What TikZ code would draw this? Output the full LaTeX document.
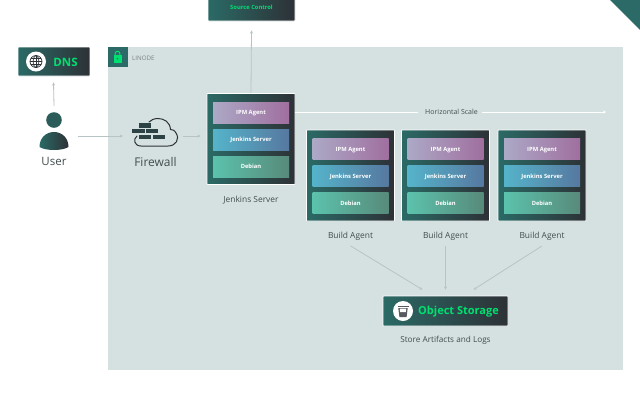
\documentclass[tikz,border=0pt]{standalone}
\usepackage{fontspec}
\setmainfont{Open Sans}
\usetikzlibrary{arrows.meta}
\definecolor{region}{HTML}{D5E1E0}
\definecolor{tealA}{HTML}{2B6A66}
\definecolor{darkB}{HTML}{2D3136}
\definecolor{linec}{HTML}{B7C4C3}
\definecolor{greentxt}{HTML}{00E070}
\definecolor{labelc}{HTML}{424D4E}
\definecolor{ipmA}{HTML}{ACA9C6}
\definecolor{ipmB}{HTML}{A06F9F}
\definecolor{jenA}{HTML}{55B4CA}
\definecolor{jenB}{HTML}{5678A0}
\definecolor{debA}{HTML}{5BC2AC}
\definecolor{debB}{HTML}{588A7A}
\tikzset{
  darkbox/.style={left color=tealA,right color=darkB,draw=white,line width=.7pt,inner sep=0pt,rounded corners=.6pt},
  rowbox/.style={minimum width=76pt,minimum height=21pt,inner sep=0pt,text=white,text height=4.1pt,text depth=0pt,font=\fontsize{5.8}{6}\selectfont\bfseries},
  ipm/.style={rowbox,left color=ipmA,right color=ipmB},
  jen/.style={rowbox,left color=jenA,right color=jenB},
  deb/.style={rowbox,left color=debA,right color=debB},
  conn/.style={draw=linec,line width=.8pt,-{Stealth[length=3.2pt,width=3pt]}},
  lab/.style={text=labelc,inner sep=0pt,font=\fontsize{8.4}{9}\selectfont},
  biglab/.style={text=labelc,inner sep=0pt,font=\fontsize{11.5}{12}\selectfont},
  brick/.style={fill=darkB!70!tealA,draw=none},
}
\newcommand{\stackbox}[4]{% name, cx, top, label
  \node[darkbox,minimum width=88pt,minimum height=91pt] (#1) at (#2,#3+45.5) {};
  \node[ipm] (#1i) at (#2,#3+19) {IPM Agent};
  \node[jen] (#1j) at (#2,#3+46) {Jenkins Server};
  \node[deb] (#1d) at (#2,#3+73) {Debian};
  \node[lab] (#1l) at (#2,#3+106.5) {#4};
}
\begin{document}
\begin{tikzpicture}[x=1pt,y=-1pt]
\clip (0,0) rectangle (640,400);
\fill[white] (0,0) rectangle (640,400);
\fill[tealA] (610,0) -- (640,0) -- (640,30) -- cycle;
% region
\node[fill=region,inner sep=0pt,minimum width=515pt,minimum height=323pt] (linode) at (365.5,208.5) {};
\node[fill=tealA,inner sep=0pt,minimum width=20pt,minimum height=20pt] (lock) at (117.5,57) {};
\fill[greentxt] (113.5,55) rectangle (121.5,62.5);
\draw[greentxt,line width=1pt] (115.2,55) -- (115.2,53.5) arc[start angle=180,end angle=360,radius=2.3] -- (119.8,55);
\fill[tealA] (117.5,58.8) circle (.9);
\node[inner sep=0pt,anchor=west,text=labelc!70,font=\fontsize{6.2}{7}\selectfont] (linodetxt) at (132,58.5) {LINODE};
% DNS
\node[darkbox,minimum width=72pt,minimum height=29pt] (dns) at (54,61.5) {};
\node[circle,fill=white,minimum size=20pt,inner sep=0pt] (dnsicon) at (36,61.5) {};
\begin{scope}[draw=darkB,line width=.7pt]
\draw (36,61.5) circle (6);
\draw (36,61.5) ellipse (2.8 and 6);
\draw (36,55.5) -- (36,67.5);
\draw (30,61.5) -- (42,61.5);
\draw (31,58.3) -- (41,58.3);
\draw (31,64.7) -- (41,64.7);
\end{scope}
\node[inner sep=0pt,text=greentxt,font=\fontsize{11.5}{13}\selectfont\bfseries] (dnstxt) at (65.5,62) {DNS};
% Source control
\node[darkbox,minimum width=87pt,minimum height=28pt,text=greentxt,text height=4.1pt,text depth=0pt,font=\fontsize{5.8}{6}\selectfont\bfseries] (src) at (251.5,7) {Source Control};
% User
\fill[tealA!75!darkB] (54,120) circle (7.8);
\shade[left color=tealA,right color=darkB] (39.5,147) .. controls (39.5,138) and (46,132) .. (54,132) .. controls (62,132) and (68.5,138) .. (68.5,147) .. controls (62,151) and (46,151) .. (39.5,147) -- cycle;
\coordinate (usertop) at (54,106);
\coordinate (userright) at (78,136);
\node[biglab] (user) at (54,161.5) {User};
% Firewall
\draw[darkB,line width=1pt,line cap=round] (137,136) .. controls (133,139) and (134,146) .. (141,146) -- (168,146) .. controls (176,146) and (180,139) .. (176,133) .. controls (174.5,130) and (172,129.5) .. (170.5,129.5) .. controls (170,122) and (164,118.5) .. (158,118.5) .. controls (154,118.5) and (151,120) .. (149,122);
\fill[brick] (139,123) rectangle (151,127.5);
\fill[brick] (132,128.5) rectangle (144.5,133);
\fill[brick] (146,128.5) rectangle (158,133);
\fill[brick] (139,134.8) rectangle (151,139);
\fill[brick] (152.5,134.8) rectangle (165,139);
\coordinate (fwleft) at (123,136);
\coordinate (fwright) at (183,136);
\node[biglab,font=\fontsize{12}{13}\selectfont] (fw) at (155.5,161.5) {Firewall};
% Stacks
\stackbox{js}{251}{93.5}{Jenkins Server}
\stackbox{ba}{350.5}{130}{Build Agent}
\stackbox{bb}{445.5}{130}{Build Agent}
\stackbox{bc}{542}{130}{Build Agent}
% Horizontal scale
\node[inner sep=0pt,text=labelc,font=\fontsize{7}{8}\selectfont] (hs) at (451.5,111.5) {Horizontal Scale};
\coordinate (hsend) at (606,112);
\draw[white,line width=.8pt] (295,112) -- (418,112);
\draw[white,line width=.8pt,-{Stealth[length=3pt,width=3pt]}] (482,112) -- (hsend);
% Object storage
\node[darkbox,minimum width=125pt,minimum height=30pt] (os) at (445.5,311) {};
\node[circle,fill=white,minimum size=20pt,inner sep=0pt] (osicon) at (403,311) {};
\fill[darkB!80] (397.5,305.5) rectangle (408.5,307.2);
\fill[darkB!80] (398.3,308) -- (407.7,308) -- (406.6,317) -- (399.4,317) -- cycle;
\fill[white] (399.8,308.6) -- (406.2,308.6) -- (405.9,312) -- (400.1,312) -- cycle;
\node[inner sep=0pt,text=greentxt,font=\fontsize{11}{12}\selectfont\bfseries] (ostxt) at (458.5,311.5) {Object Storage};
\node[lab,font=\fontsize{8.2}{9}\selectfont] (oslab) at (445.5,340.5) {Store Artifacts and Logs};
% Connectors
\draw[conn] (usertop) -- ([xshift=-.5pt,yshift=-6pt]dns.south);
\draw[conn] (userright) -- (fwleft);
\draw[conn] (fwright) -- ([xshift=-6pt,yshift=3pt]js.west);
\draw[conn] (js.north) -- ([yshift=-9pt]src.south);
\draw[conn] ([yshift=-5pt]bal.south) -- ([xshift=-23pt,yshift=6pt]os.north);
\draw[conn] ([yshift=-5pt]bbl.south) -- ([yshift=6pt]os.north);
\draw[conn] ([yshift=-5pt]bcl.south) -- ([xshift=28pt,yshift=6pt]os.north);
\end{tikzpicture}
\end{document}
